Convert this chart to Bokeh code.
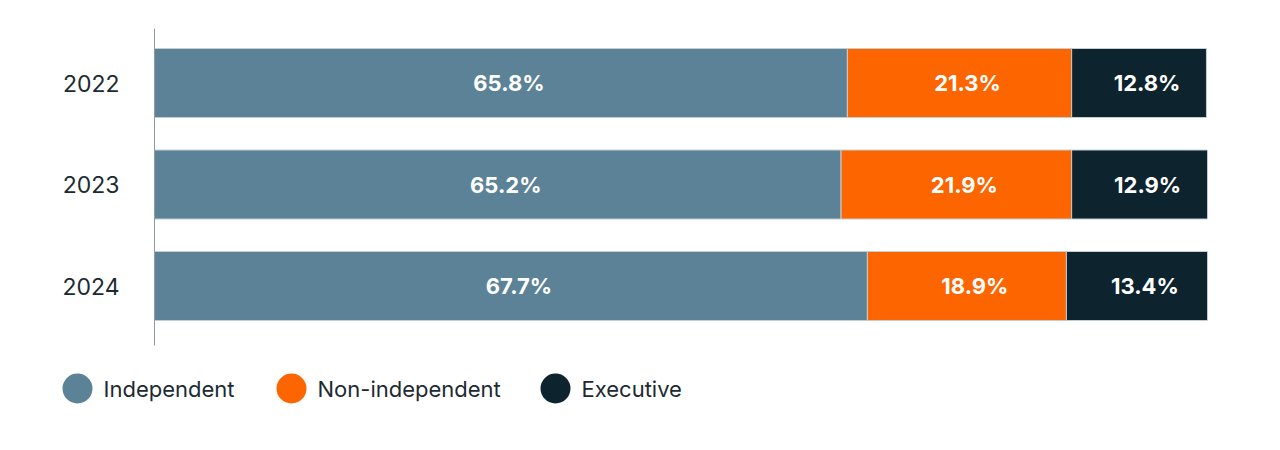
from bokeh.plotting import figure
from bokeh.models import Range1d, FixedTicker, ColumnDataSource
from bokeh.layouts import column
from bokeh.core.properties import value
from bokeh.embed import file_html
from bokeh.resources import INLINE

years = ["2022", "2023", "2024"]
series = ["Independent", "Non-independent", "Executive"]
independent = [65.8, 65.2, 67.7]
non_independent = [21.3, 21.9, 18.9]
executive = [12.8, 12.9, 13.4]
colors = ["#5b8296", "#fd6500", "#0d232e"]

FONT = "Inter"
TXT = "#1c2a32"

p = figure(width=1280, height=360, output_backend="svg", toolbar_location=None,
           x_range=Range1d(0, 100), y_range=Range1d(2.586, -0.537),
           min_border_left=154, min_border_right=73, min_border_top=28, min_border_bottom=15)
p.frame_align = False
p.outline_line_color = None
p.xgrid.visible = False
p.ygrid.visible = False
p.xaxis.visible = False
p.background_fill_color = None
p.border_fill_color = None

ypos = list(range(len(years)))
vals = [independent, non_independent, executive]
left = [0.0] * len(years)
for k, v in enumerate(vals):
    right = [l + x for l, x in zip(left, v)]
    mid = [(l + r) / 2 for l, r in zip(left, right)]
    src = ColumnDataSource(dict(y=ypos, left=left, right=right, mid=mid,
                                lab=[f"{x:.1f}%" for x in v]))
    p.hbar(y="y", left="left", right="right", height=0.68, source=src,
           fill_color=colors[k], line_color="#c5ced3", line_width=1)
    p.text(x="mid", y="y", text="lab", source=src, text_color="white",
           text_font=value(FONT), text_font_style="bold", text_font_size="22px",
           text_align="center", text_baseline="middle", x_offset=8)
    left = right

ax = p.yaxis[0]
ax.ticker = FixedTicker(ticks=ypos)
ax.major_label_overrides = {i: y for i, y in zip(ypos, years)}
ax.major_tick_line_color = None
ax.minor_tick_line_color = None
ax.axis_line_color = "#8d9ca4"
ax.axis_line_width = 1
ax.major_label_standoff = 29
ax.major_label_text_font = FONT
ax.major_label_text_font_size = "23px"
ax.major_label_text_color = TXT

leg = figure(width=1280, height=90, output_backend="svg", toolbar_location=None,
             x_range=Range1d(0, 1280), y_range=Range1d(90, 0), min_border=0)
leg.frame_align = False
leg.outline_line_color = None
leg.axis.visible = False
leg.grid.visible = False
leg.background_fill_color = None
leg.border_fill_color = None
leg_x = [77, 291, 555]
leg.scatter(x=leg_x, y=[28] * 3, size=30, fill_color=colors, line_color=None)
leg.text(x=[x + 26 for x in leg_x], y=[28] * 3, text=series,
         text_font=value(FONT), text_font_size="22px", text_color=TXT,
         text_baseline="middle", text_align="left")

layout = column(p, leg, spacing=0)
open("out.html", "w").write(file_html(layout, INLINE))
